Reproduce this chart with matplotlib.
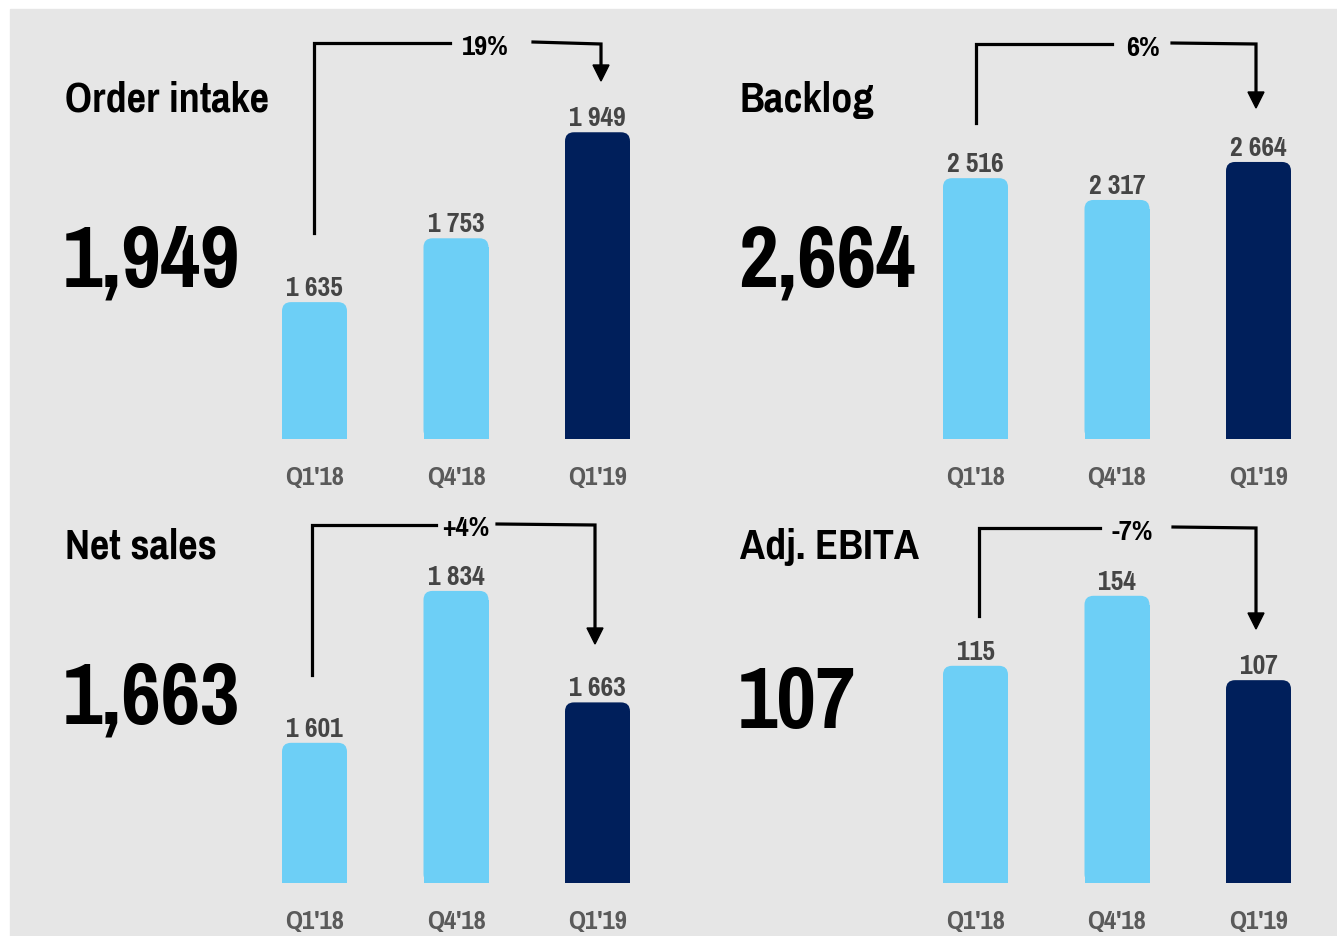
"""Four KPI panels: order intake, backlog, net sales, adj. EBITA."""

import matplotlib

matplotlib.use("Agg")
import matplotlib.pyplot as plt
from matplotlib.patches import FancyBboxPatch, Polygon, Rectangle
from matplotlib.transforms import Affine2D

W, H = 1337, 937

quarters = ["Q1'18", "Q4'18", "Q1'19"]
titles = ["Order intake", "Backlog", "Net sales", "Adj. EBITA"]
headline = ["1,949", "2,664", "1,663", "107"]
changes = ["19%", "6%", "+4%", "-7%"]
order_intake = [1635, 1753, 1949]
backlog = [2516, 2317, 2664]
net_sales = [1601, 1834, 1663]
adj_ebita = [115, 154, 107]
series = [order_intake, backlog, net_sales, adj_ebita]

LIGHT = "#6dcff6"
DARK = "#001f5b"
BG = "#e6e6e6"
FONT = ["Liberation Sans Narrow", "Pragati Narrow", "PT Sans Narrow",
        "Asap Condensed", "Liberation Sans", "DejaVu Sans"]

# layout per panel (pixels from top-left): first bar centre, bar baseline,
# px per unit, axis start value, title/headline anchors, bracket geometry
SPACING = 141.5
panels = [
    dict(c0=314.5, base=440, slope=0.541, y0=1382, tx=65, ty=112, hy=287,
         br=(314, 234, 44, 450, 533, 601, 46, 82), px=485, py=55),
    dict(c0=975.5, base=440, slope=0.1095, y0=134, tx=740, ty=112, hy=287,
         br=(976, 124, 45, 1112, 1172, 1256, 46, 109), px=1143, py=56),
    dict(c0=314.5, base=884, slope=0.652, y0=1386, tx=65, ty=559, hy=724,
         br=(312, 676, 526, 436, 497, 595, 527, 645), px=466, py=536),
    dict(c0=975.5, base=884, slope=1.795, y0=-6, tx=740, ty=559, hy=728,
         br=(979, 617, 529, 1100, 1173, 1256, 530, 630), px=1132, py=540),
]

fig = plt.figure(figsize=(W / 100, H / 100), dpi=100)
px = Affine2D().scale(1 / W, -1 / H).translate(0, 1) + fig.transFigure
fig.patches.append(Rectangle((10, 10), W, H, transform=px, color=BG, zorder=-5))


def pt(p):
    return p * 0.72


for spec, values, title, big, change in zip(panels, series, titles, headline, changes):
    ax = fig.add_axes([0, 0, 1, 1])
    ax.set_axis_off()
    ax.patch.set_visible(False)
    x0 = -spec["c0"] / SPACING
    ax.set_xlim(x0, x0 + W / SPACING)
    lo = spec["y0"] - (H - spec["base"]) / spec["slope"]
    ax.set_ylim(lo, lo + H / spec["slope"])

    width = 65 / SPACING
    r = 9 / SPACING
    ry = 9 / spec["slope"]
    for i, v in enumerate(values):
        color = DARK if i == len(values) - 1 else LIGHT
        ax.bar(i, v - spec["y0"] - ry, bottom=spec["y0"], width=width,
               color=color, linewidth=0)
        ax.add_patch(FancyBboxPatch(
            (i - width / 2, spec["y0"]), width, v - spec["y0"],
            boxstyle=f"round,pad=0,rounding_size={r}",
            mutation_aspect=SPACING / spec["slope"],
            facecolor=color, linewidth=0))
        ax.annotate(f"{v:,}".replace(",", " "), (i, v), xytext=(0, 7),
                    textcoords="offset pixels", ha="center", va="baseline",
                    fontsize=pt(30), fontweight="bold", color="#454545",
                    family=FONT)
        ax.annotate(quarters[i], (i, spec["y0"]), xytext=(0, -45),
                    textcoords="offset pixels", ha="center", va="baseline",
                    fontsize=pt(29), fontweight="bold", color="#5a5a5a",
                    family=FONT)

    fig.text(spec["tx"], spec["ty"], title, transform=px, ha="left",
             va="baseline", fontsize=pt(46), fontweight="bold", family=FONT)
    fig.text(spec["tx"] - 2, spec["hy"], big, transform=px, ha="left",
             va="baseline", fontsize=pt(94), fontweight="bold", family=FONT)

    lx, ly, top, gap_l, gap_r, rx, top_r, tip = spec["br"]
    lw = pt(3.2)
    fig.lines.append(plt.Line2D([lx, lx, gap_l], [ly, top, top],
                                transform=px, color="black", lw=lw,
                                solid_joinstyle="miter"))
    fig.lines.append(plt.Line2D([gap_r, rx, rx], [top - 1, top_r - 1, tip - 14],
                                transform=px, color="black", lw=lw,
                                solid_joinstyle="miter"))
    fig.patches.append(Polygon([(rx - 8, tip - 16), (rx + 8, tip - 16), (rx, tip)],
                               closed=True, transform=px, color="black"))
    fig.text(spec["px"], spec["py"], change, transform=px,
             ha="center", va="baseline", fontsize=pt(31), fontweight="bold",
             family=FONT)

fig.savefig("out.png", dpi=100, facecolor="white")
